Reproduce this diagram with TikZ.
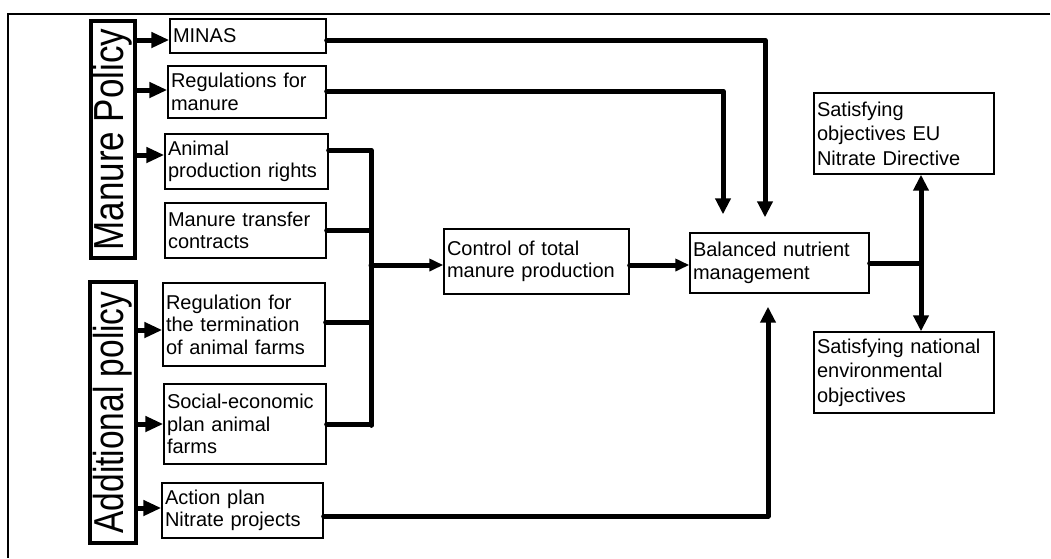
\documentclass[tikz,border=0pt]{standalone}
\usepackage{graphicx}
\usepackage{fontspec}
\setmainfont{Liberation Sans}
\usetikzlibrary{arrows.meta}

\tikzset{
  txtbox/.style 2 args = {draw, line width=1.4pt, align=left, inner xsep=3pt, inner ysep=2pt,
    text width=#1, minimum height=#2, font=\fontsize{20}{22.5}\selectfont},
  policy/.style = {draw, line width=4.5pt, inner sep=0pt, font=\fontsize{35}{40}\selectfont},
  flow/.style = {line width=5pt, line cap=round, line join=round},
  flowarrow/.style = {flow, -{Triangle[length=16pt,width=15pt]}},
  smallarrow/.style = {flow, -{Triangle[length=14pt,width=12pt]}},
  parrow/.style = {line width=5pt, -{Triangle[length=18pt,width=15pt]}},
}

\begin{document}
\begin{tikzpicture}[x=1pt,y=-1pt]
    \useasboundingbox (0,0) rectangle (1051,558);
    \draw[line width=2.4pt] (1050,14) -- (8,14) -- (8,558);

    % policy groups
    \node[policy, minimum width=44pt, minimum height=237pt] (manure) at (113,139.5)
        {\rotatebox{90}{\scalebox{1}[1.2]{Manure Policy}}};
    \node[policy, minimum width=46pt, minimum height=261pt, font=\fontsize{33.5}{38}\selectfont] (additional) at (113,412.5)
        {\rotatebox{90}{\scalebox{1}[1.25]{Additional policy}}};

    % instruments
    \node[txtbox={150pt}{34pt}] (minas) at (248,36) {MINAS};
    \node[txtbox={152pt}{52pt}] (regs) at (247,92) {Regulations for\\manure};
    \node[txtbox={157pt}{55pt}] (rights) at (246.5,161.5) {Animal\\production rights};
    \node[txtbox={155pt}{55pt}] (transfer) at (245.5,230.5) {Manure transfer\\contracts};
    \node[txtbox={156pt}{83pt}] (termination) at (244,324.5) {Regulation for\\the termination\\of animal farms};
    \node[txtbox={156pt}{80pt}] (socio) at (245,424) {Social-economic\\plan animal\\farms};
    \node[txtbox={155pt}{55pt}] (action) at (242.5,510.5) {Action plan\\Nitrate projects};

    % effects
    \node[txtbox={179pt}{65pt}] (control) at (536.5,261.5) {Control of total\\manure production};
    \node[txtbox={173pt}{60pt}] (balance) at (779.5,263) {Balanced nutrient\\management};
    \node[txtbox={174pt}{81pt}, font=\fontsize{20}{24.5}\selectfont] (eu) at (904,133.5)
        {Satisfying\\objectives EU\\Nitrate Directive};
    \node[txtbox={174pt}{81pt}, font=\fontsize{20}{24.5}\selectfont] (national) at (904,372.5)
        {Satisfying national\\environmental\\objectives};

    % policy arrows
    \draw[parrow] ([yshift=-4pt]minas.west -| manure.east) -- ([yshift=-4pt]minas.west);
    \draw[parrow] ([yshift=2pt]regs.west -| manure.east) -- ([yshift=2pt]regs.west);
    \draw[parrow] ([yshift=6.5pt]rights.west -| manure.east) -- ([yshift=6.5pt]rights.west);
    \draw[parrow] ([yshift=-5.5pt]termination.west -| additional.east) -- ([yshift=-5.5pt]termination.west);
    \draw[parrow] (socio.west -| additional.east) -- (socio.west);
    \draw[parrow] ([yshift=2.5pt]action.west -| additional.east) -- ([yshift=2.5pt]action.west);

    % bus into control
    \coordinate (bustop) at (371,150);
    \coordinate (busend) at (371,425);
    \coordinate (busout) at (371,265);
    \draw[flow] ([yshift=11.5pt]rights.east) -- (bustop) -- (busend);
    \draw[flow] (transfer.east) -| (busend);
    \draw[flow] ([yshift=2.5pt]termination.east) -| (busend);
    \draw[flow] (socio.east) -| (busend);
    \draw[smallarrow] (busout) -- (busout -| control.west);
    \draw[smallarrow] ([yshift=-3.5pt]control.east) -- ([yshift=-3.5pt]control.east -| balance.west);

    % direct routes to balance
    \draw[flowarrow, shorten >=15pt] ([yshift=-4pt]minas.east) -| ([xshift=-14.5pt]balance.north);
    \draw[flowarrow, shorten >=18pt] ([yshift=1pt]regs.east) -| ([xshift=-56.5pt]balance.north);
    \draw[flowarrow, shorten >=13pt] ([yshift=-5.5pt]action.east) -| ([xshift=-11.5pt]balance.south);

    % objectives
    \coordinate (split) at ([xshift=141.5pt]balance.center);
    \draw[flow] (balance.east) -- (split);
    \draw[flowarrow] (split) -- (split |- eu.south);
    \draw[flowarrow] (split) -- (split |- national.north);
\end{tikzpicture}
\end{document}
